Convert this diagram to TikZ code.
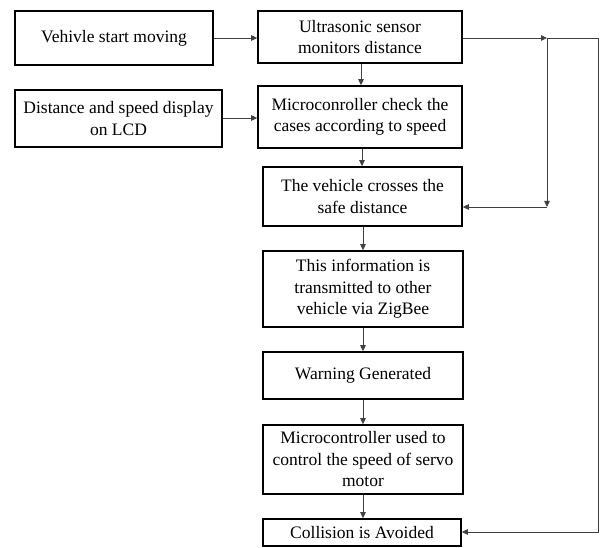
\documentclass[tikz,border=0pt]{standalone}
\usepackage{fontspec}
\setmainfont{Liberation Serif}
\usetikzlibrary{arrows.meta}
\begin{document}
\begin{tikzpicture}[x=1pt,y=-1pt,
  box/.style={draw=black, line width=1.6pt, inner sep=0pt, align=center,
    font=\fontsize{17.5}{21.5}\selectfont},
  conn/.style={draw=black!75, line width=0.8pt},
  arr/.style={conn, -{Triangle[length=6pt,width=5.5pt]}}]
\useasboundingbox (0,0) rectangle (600,548);
\node[box, minimum width=198pt, minimum height=54pt] (start) at (114,38) {Vehivle start moving};
\node[box, minimum width=207pt, minimum height=57pt] (lcd) at (118.5,118.5) {Distance and speed display\\on LCD};
\node[box, minimum width=204pt, minimum height=52pt] (ultra) at (360,37) {Ultrasonic sensor\\monitors distance};
\node[box, minimum width=204pt, minimum height=62pt] (micro) at (360,117) {Microconroller check the\\cases according to speed};
\node[box, minimum width=199pt, minimum height=59pt] (cross) at (362.5,196.5) {The vehicle crosses the\\safe distance};
\node[box, minimum width=200pt, minimum height=76pt] (info) at (363,289) {This information is\\transmitted to other\\vehicle via ZigBee};
\node[box, minimum width=200pt, minimum height=47pt] (warn) at (363,375.5) {Warning Generated};
\node[box, minimum width=200pt, minimum height=69pt] (servo) at (363,459.5) {Microcontroller used to\\control the speed of servo\\motor};
\node[box, minimum width=198pt, minimum height=27pt] (coll) at (362,532.5) {Collision is Avoided};
\coordinate (j1) at (547,38);
\coordinate (j2) at (547,207);
\coordinate (r1) at (598.5,38);
\coordinate (r2) at (598.5,532);
\draw[arr] (start.east |- 0,38) -- (ultra.west |- 0,38);
\draw[arr] (lcd.east |- 0,118) -- (micro.west |- 0,118);
\draw[arr] (ultra.south -| 361,0) -- (micro.north -| 361,0);
\draw[arr] (micro.south -| 362,0) -- (cross.north -| 362,0);
\draw[arr] (cross.south -| 363,0) -- (info.north -| 363,0);
\draw[arr] (info.south -| 363,0) -- (warn.north -| 363,0);
\draw[arr] (warn.south -| 363,0) -- (servo.north -| 363,0);
\draw[arr] (servo.south -| 363,0) -- (coll.north -| 363,0);
\draw[arr] (ultra.east |- j1) -- (j1);
\draw[conn] (j1) -- (r1) -- (r2);
\draw[arr] (r2) -- (coll.east |- r2);
\draw[arr] (j1) -- (j2);
\draw[arr] (j2) -- (cross.east |- j2);
\end{tikzpicture}
\end{document}
